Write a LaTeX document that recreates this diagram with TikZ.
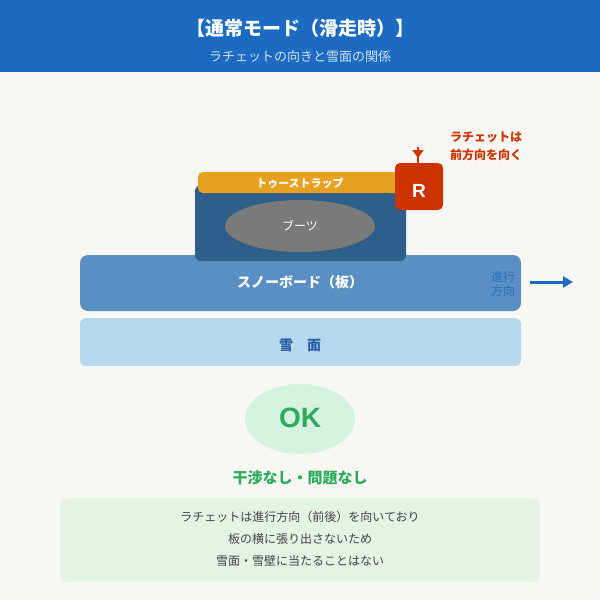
\documentclass[tikz,border=0pt]{standalone}
\usepackage{fontspec}
\setmainfont{Noto Sans CJK JP}
\newfontfamily\latinsans{Liberation Sans}
\usetikzlibrary{arrows.meta}
\definecolor{bg}{HTML}{F8F7F4}
\definecolor{hdr}{HTML}{1C6BC0}
\definecolor{sub}{HTML}{CFE0F4}
\definecolor{board}{HTML}{5A8FC4}
\definecolor{snow}{HTML}{B8D8EE}
\definecolor{snowtxt}{HTML}{2A5FA8}
\definecolor{bootbase}{HTML}{2E5F8A}
\definecolor{strap}{HTML}{E8A020}
\definecolor{boot}{HTML}{7A7A7A}
\definecolor{ratchet}{HTML}{CC3300}
\definecolor{okfill}{HTML}{D4F3E0}
\definecolor{okgreen}{HTML}{2EAA5C}
\definecolor{infofill}{HTML}{E6F2E6}
\definecolor{infotxt}{HTML}{444444}
\definecolor{dirtxt}{HTML}{2C6FC0}
\tikzset{
  px/.style={x=1pt,y=-1pt},
  lbl/.style={inner sep=0pt,align=center},
}
\begin{document}
\begin{tikzpicture}[px]
\useasboundingbox (0,0) rectangle (600,600);
\fill[bg] (0,0) rectangle (600,600);
% header
\fill[hdr] (0,0) rectangle (600,72);
\node[lbl,text=white,font=\fontsize{19}{22}\selectfont\bfseries] (title) at (300,28) {【通常モード（滑走時）】};
\node[lbl,text=sub,font=\fontsize{13}{15}\selectfont] (subtitle) at (300,57) {ラチェットの向きと雪面の関係};
% snow surface
\fill[snow,rounded corners=6pt] (80,318) rectangle (521,366);
\node[lbl,text=snowtxt,font=\fontsize{14}{16}\selectfont\bfseries] (snowlbl) at (300,345) {雪　面};
% board
\fill[board,rounded corners=8pt] (80,255) rectangle (521,311);
\node[lbl,text=white,font=\fontsize{14}{16}\selectfont\bfseries] (boardlbl) at (300,282) {スノーボード（板）};
\node[lbl,text=dirtxt,font=\fontsize{12}{14}\selectfont] (dir) at (503,284) {進行\\方向};
\coordinate (arrS) at (530,282);
\coordinate (arrE) at (573,282);
\draw[hdr,line width=3pt,-{Triangle[length=10pt,width=11pt]}] (arrS) -- (arrE);
% boot base
\fill[bootbase,rounded corners=6pt] (195,185) rectangle (406,261);
% strap
\fill[strap,rounded corners=5pt] (198,172) rectangle (405,193);
\node[lbl,text=white,font=\fontsize{11}{13}\selectfont\bfseries] (straplbl) at (300,183) {トゥーストラップ};
% boot
\fill[boot] (300,226) ellipse [x radius=75, y radius=26];
\node[lbl,text=white,font=\fontsize{12}{14}\selectfont] (bootlbl) at (300,226) {ブーツ};
% ratchet
\fill[ratchet,rounded corners=5pt] (395,163) rectangle (443,210);
\node[lbl,text=white,font=\latinsans\bfseries\fontsize{19}{22}\selectfont] (R) at (419,191) {R};
\coordinate (rtop) at (418,147);
\coordinate (rmid) at (418,158);
\coordinate (rbot) at (418,163);
\draw[ratchet,line width=1.5pt] (rtop) -- (rbot);
\draw[ratchet,line width=1.5pt,-{Triangle[length=8pt,width=11pt]}] (rtop) -- (rmid);
\node[lbl,text=ratchet,font=\fontsize{12}{18}\selectfont\bfseries] (note) at (486,146) {ラチェットは\\前方向を向く};
% OK
\fill[okfill] (300,419) ellipse [x radius=55, y radius=35];
\node[lbl,text=okgreen,font=\latinsans\bfseries\fontsize{28}{30}\selectfont] (ok) at (300,418) {OK};
\node[lbl,text=okgreen,font=\fontsize{15}{18}\selectfont\bfseries] (result) at (300,478) {干渉なし・問題なし};
% info
\fill[infofill,rounded corners=8pt] (60,498) rectangle (540,582);
\node[lbl,text=infotxt,font=\fontsize{12}{22}\selectfont] (info) at (300,539) {ラチェットは進行方向（前後）を向いており\\板の横に張り出さないため\\雪面・雪壁に当たることはない};
\end{tikzpicture}
\end{document}
